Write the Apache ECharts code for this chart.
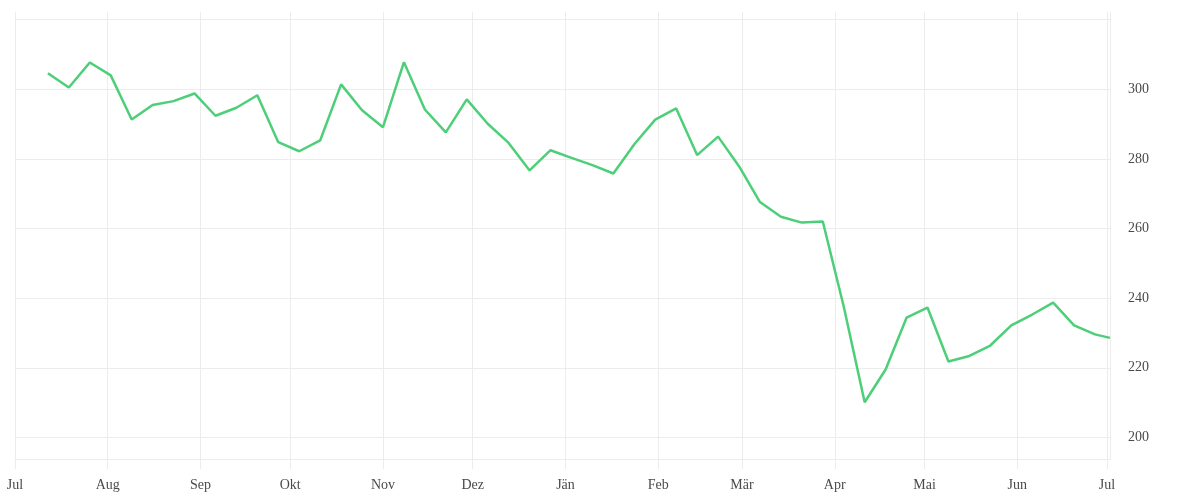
<!DOCTYPE html>
<html>
<head>
<meta charset="utf-8">
<script src="https://cdn.jsdelivr.net/npm/echarts@6/dist/echarts.min.js"></script>
<style>html,body{margin:0;padding:0;background:#fff}#c{width:1200px;height:500px}</style>
</head>
<body>
<div id="c"></div>
<script>
var dates = ['2022-07-12','2022-07-19','2022-07-26','2022-08-02','2022-08-09','2022-08-16','2022-08-23','2022-08-30',
'2022-09-06','2022-09-13','2022-09-20','2022-09-27','2022-10-04','2022-10-11','2022-10-18','2022-10-25',
'2022-11-01','2022-11-08','2022-11-15','2022-11-22','2022-11-29','2022-12-06','2022-12-13','2022-12-20','2022-12-27',
'2023-01-03','2023-01-10','2023-01-17','2023-01-24','2023-01-31','2023-02-07','2023-02-14','2023-02-21','2023-02-28',
'2023-03-07','2023-03-14','2023-03-21','2023-03-28','2023-04-04','2023-04-11','2023-04-18','2023-04-25',
'2023-05-02','2023-05-09','2023-05-16','2023-05-23','2023-05-30','2023-06-06','2023-06-13','2023-06-20','2023-06-27','2023-07-02'];
var values = [304.6,300.5,307.7,304.0,291.3,295.5,296.6,298.8,
292.4,294.7,298.3,284.8,282.2,285.3,301.4,294.0,
289.1,307.8,294.2,287.6,297.1,290.1,284.6,276.7,282.5,
280.3,278.2,275.8,284.2,291.3,294.5,281.1,286.4,277.9,
267.6,263.4,261.7,262.0,237.6,210.1,219.5,234.4,
237.3,221.8,223.4,226.4,232.2,235.3,238.7,232.2,229.6,228.6];
var monthNames = ['Jän','Feb','Mär','Apr','Mai','Jun','Jul','Aug','Sep','Okt','Nov','Dez'];
var yLabels = [200,220,240,260,280,300];
var yTicks = [200,220,240,260,280,300,320];

var chart = echarts.init(document.getElementById('c'));
var font = 'Liberation Serif';
chart.setOption({
  animation: false,
  grid: {left: 15, right: 90, top: 12, bottom: 41},
  xAxis: {
    type: 'time',
    min: '2022-07-01',
    max: 'dataMax',
    minInterval: 28 * 86400000,
    maxInterval: 31 * 86400000,
    axisLine: {show: true, lineStyle: {color: '#ececec', width: 1}},
    axisTick: {show: true, length: 10, lineStyle: {color: '#ececec'}},
    splitLine: {show: true, lineStyle: {color: '#ececec', width: 1}},
    axisLabel: {
      color: '#4a4a4a', fontFamily: font, fontSize: 14, margin: 19,
      formatter: function (v) { return monthNames[new Date(v).getMonth()]; }
    }
  },
  yAxis: {
    type: 'value',
    position: 'right',
    min: 193.8,
    max: 322.2,
    axisLine: {show: true, lineStyle: {color: '#ececec', width: 1}},
    axisTick: {show: false, customValues: yTicks},
    splitLine: {show: true, lineStyle: {color: '#ececec', width: 1}},
    axisLabel: {
      color: '#4a4a4a', fontFamily: font, fontSize: 14, margin: 18,
      customValues: yLabels
    }
  },
  series: [{
    type: 'line',
    data: dates.map(function (d, i) { return [d, values[i]]; }),
    showSymbol: false,
    symbol: 'none',
    lineStyle: {color: '#4ccf78', width: 2.5},
    itemStyle: {color: '#4ccf78'}
  }]
});
</script>
</body>
</html>
